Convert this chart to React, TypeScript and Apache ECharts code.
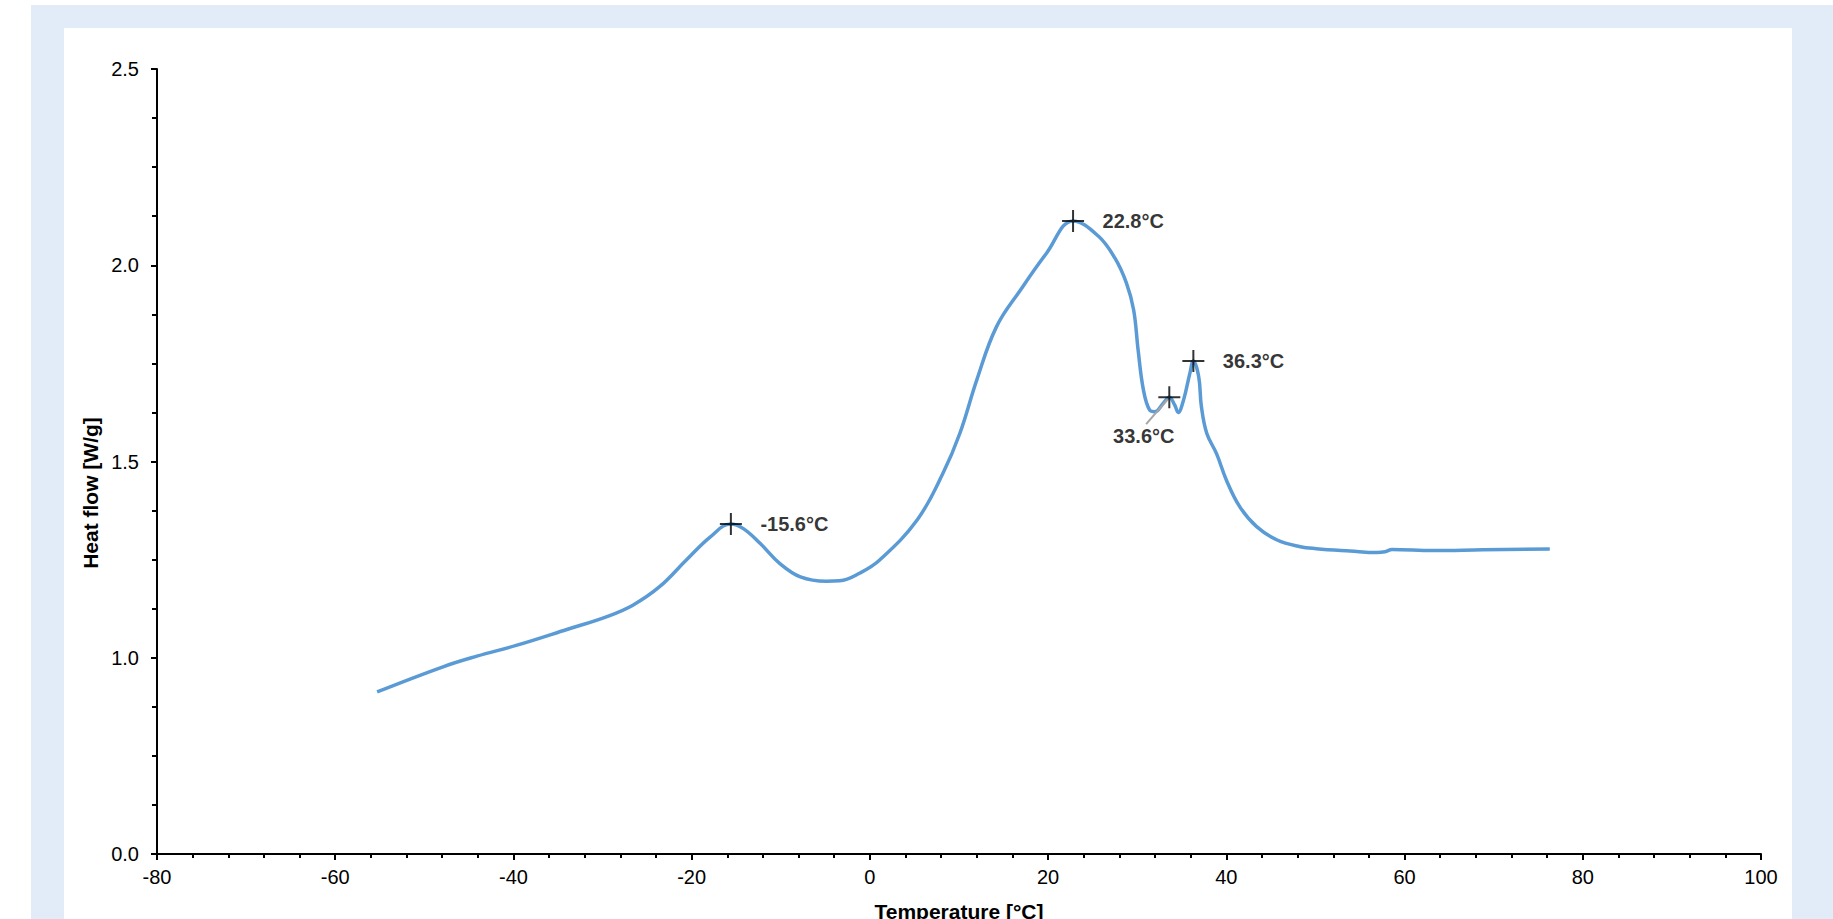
import React, { useEffect, useRef } from "react";
import * as echarts from "echarts";

// DSC curve
const temperature = [
  -55.3, -47.9, -44.1, -39.6, -34.0, -29.5, -26.6, -23.6, -20.6, -17.9, -15.6, -14.2, -12.3, -10.1,
  -7.8, -4.9, -3.4, -1.1, 1.1, 5.3, 8.2, 10.1, 12.0, 14.2, 16.9, 19.8, 22.8, 25.6, 27.5, 28.8, 29.6,
  30.1, 30.7, 31.4, 32.0, 32.9, 33.6, 34.2, 34.6, 35.2, 35.9, 36.3, 36.9, 37.2, 37.8, 38.9, 40.0,
  41.5, 43.4, 45.7, 48.3, 50.1, 53.9, 56.9, 57.8, 58.6, 63.2, 68.8, 76.3,
];
const heatFlow = [
  0.913, 0.977, 1.004, 1.032, 1.072, 1.105, 1.134, 1.181, 1.249, 1.308, 1.341, 1.329, 1.291, 1.24,
  1.206, 1.195, 1.196, 1.216, 1.249, 1.351, 1.47, 1.572, 1.708, 1.843, 1.937, 2.03, 2.113, 2.075,
  2.018, 1.954, 1.886, 1.784, 1.682, 1.631, 1.627, 1.648, 1.664, 1.644, 1.625, 1.657, 1.724, 1.756,
  1.716, 1.64, 1.572, 1.52, 1.453, 1.385, 1.334, 1.3, 1.283, 1.278, 1.272, 1.268, 1.27, 1.276,
  1.273, 1.275, 1.277,
];

// Peak annotations
const peakTemps = [-15.6, 22.8, 33.6, 36.3];
const peakFlows = [1.341, 2.113, 1.664, 1.756];

// Axis ticks
const xTicks = { min: -80, max: 100, interval: 20 };
const yTicks = { min: 0.5, max: 2.5, interval: 0.5 };

const FONT = "'Liberation Sans', Arial, sans-serif";

export default function App() {
  const ref = useRef<HTMLDivElement>(null);

  useEffect(() => {
    if (!ref.current) return;
    const chart = echarts.init(ref.current, null, { renderer: "svg" });

    const curve = temperature.map((t, i) => [t, heatFlow[i]]);
    const peaks = peakTemps.map((t, i) => {
      const item: any = { value: [t, peakFlows[i]] };
      if (t === 33.6) {
        item.label = { position: [-12, 52], align: "center", verticalAlign: "middle" };
      }
      return item;
    });
    const leadIdx = peakTemps.indexOf(33.6);
    const leader = [
      [peakTemps[leadIdx] - 2.6, peakFlows[leadIdx] - 0.069],
      [peakTemps[leadIdx] - 0.2, peakFlows[leadIdx] - 0.006],
    ];

    chart.setOption({
      animation: false,
      backgroundColor: "transparent",
      textStyle: { fontFamily: FONT },
      grid: { left: 157, right: 72, top: 69, bottom: 65, containLabel: false },
      xAxis: {
        type: "value",
        min: xTicks.min,
        max: xTicks.max,
        interval: xTicks.interval,
        axisLine: { show: true, onZero: false, lineStyle: { color: "#000", width: 2 } },
        axisTick: { show: true, length: 6, lineStyle: { color: "#000", width: 2 } },
        minorTick: { show: true, splitNumber: 5, length: 4, lineStyle: { color: "#000", width: 2 } },
        splitLine: { show: false },
        axisLabel: { color: "#000", fontSize: 20, margin: 13, fontFamily: FONT },
      },
      yAxis: {
        type: "value",
        min: yTicks.min,
        max: yTicks.max,
        interval: yTicks.interval,
        axisLine: { show: true, onZero: false, lineStyle: { color: "#000", width: 2 } },
        axisTick: { show: true, length: 6, lineStyle: { color: "#000", width: 2 } },
        minorTick: { show: true, splitNumber: 4, length: 5, lineStyle: { color: "#000", width: 2 } },
        splitLine: { show: false },
        axisLabel: {
          color: "#000",
          fontSize: 20,
          margin: 18,
          fontFamily: FONT,
          formatter: (v: number) => (v === yTicks.min ? "0.0" : v.toFixed(1)),
        },
      },
      series: [
        {
          type: "line",
          data: curve,
          smooth: 0.4,
          showSymbol: false,
          symbol: "none",
          lineStyle: { color: "#5B9BD5", width: 3.5 },
          z: 2,
        },
        {
          type: "line",
          data: leader,
          showSymbol: false,
          symbol: "none",
          lineStyle: { color: "#A6A6A6", width: 2 },
          z: 3,
        },
        {
          type: "scatter",
          data: peaks,
          symbol: "path://M0,11H22M11,0V22",
          symbolSize: 22,
          itemStyle: { color: "none", borderColor: "#000", borderWidth: 2 },
          label: {
            show: true,
            position: "right",
            distance: 16,
            color: "#000",
            fontSize: 20,
            fontWeight: "bold",
            fontFamily: FONT,
            formatter: (p: any) => p.value[0].toFixed(1) + "°C",
          },
          z: 4,
        },
      ],
      graphic: [
        {
          type: "text",
          x: 90,
          y: 493,
          rotation: Math.PI / 2,
          z: 100,
          style: {
            text: "Heat flow [W/g]",
            fontSize: 21,
            fontWeight: "bold",
            fontFamily: FONT,
            fill: "#000",
            align: "center",
            verticalAlign: "middle",
          },
        },
        {
          type: "text",
          x: 959,
          y: 911,
          z: 100,
          style: {
            text: "Temperature [°C]",
            fontSize: 21,
            fontWeight: "bold",
            fontFamily: FONT,
            fill: "#000",
            align: "center",
            verticalAlign: "middle",
          },
        },
      ],
    });

    return () => chart.dispose();
  }, []);

  return (
    <div style={{ position: "fixed", left: 0, top: 0, width: 1833, height: 919, background: "#fff", overflow: "hidden" }}>
      <div style={{ position: "absolute", left: 31, top: 5, right: 0, bottom: 0, background: "#E2ECF8" }} />
      <div style={{ position: "absolute", left: 64, top: 28, width: 1728, bottom: 0, background: "#fff" }} />
      <div ref={ref} style={{ position: "absolute", left: 0, top: 0, width: 1833, height: 919 }} />
    </div>
  );
}
